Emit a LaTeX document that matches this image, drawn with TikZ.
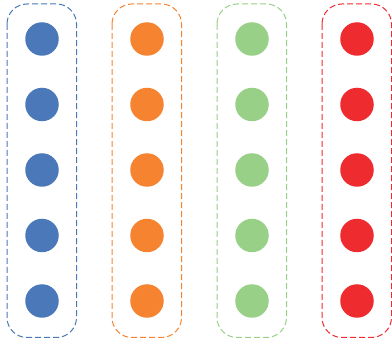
\documentclass[tikz,border=0pt]{standalone}
\definecolor{cblue}{HTML}{4A78B8}
\definecolor{corange}{HTML}{F5832F}
\definecolor{cgreen}{HTML}{97D086}
\definecolor{cred}{HTML}{EE2B2F}
\begin{document}
\begin{tikzpicture}[x=1pt,y=-1pt,
  grp/.style={draw=#1, line width=1pt, dash pattern=on 6pt off 3pt, rounded corners=20pt},
  dot/.style={circle, fill=#1, minimum size=33.5pt, inner sep=0pt}]
\useasboundingbox (0,0) rectangle (392,342);
\foreach \c/\x [count=\i] in {cblue/42,corange/147,cgreen/252,cred/357} {
  \draw[grp=\c] (\x-35,4) rectangle (\x+34.5,337.5);
  \foreach \y [count=\j] in {39,104.5,170,235.5,301} {
    \node[dot=\c] (n\i\j) at (\x,\y) {};
  }
}
\end{tikzpicture}
\end{document}
